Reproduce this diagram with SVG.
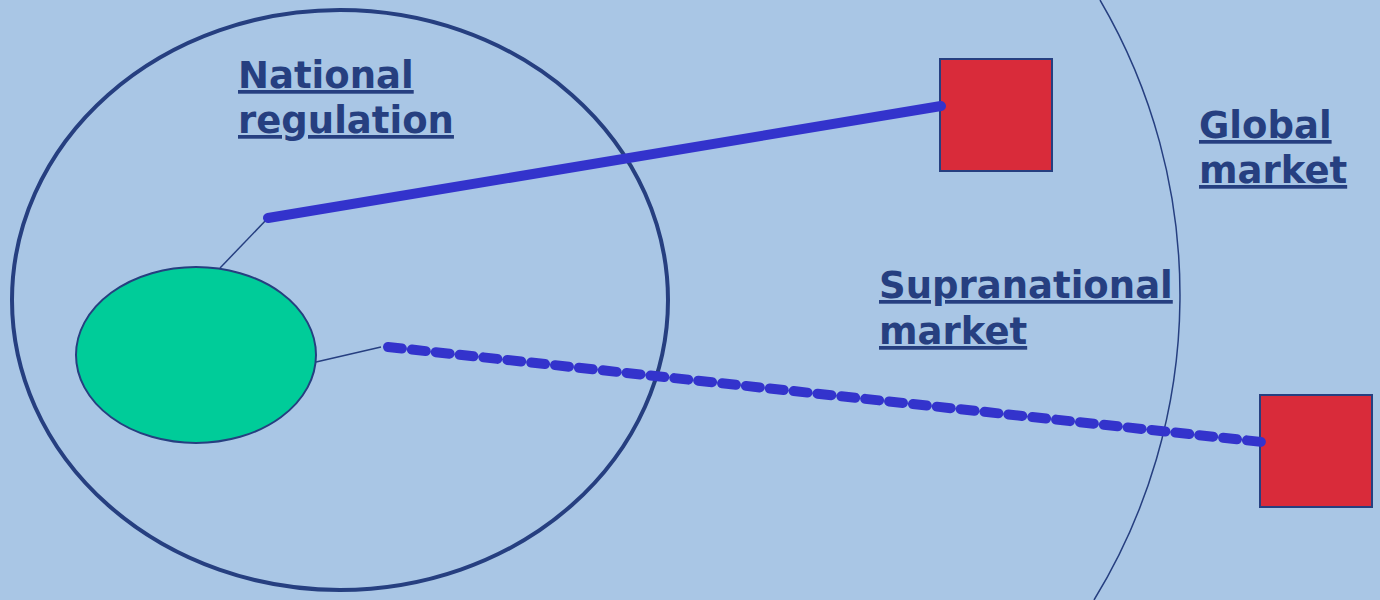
<svg xmlns="http://www.w3.org/2000/svg" width="1380" height="600" viewBox="0 0 1380 600">
<style>
.lbl{font-family:"DejaVu Sans","Verdana",sans-serif;font-weight:bold;font-size:37px;fill:#263f80;text-decoration:underline;}
.sq{fill:#d92b3a;stroke:#263f80;stroke-width:2;}
.thin{stroke:#263f80;stroke-width:1.5;fill:none;}
.link{stroke:#3333cc;stroke-width:10;stroke-linecap:round;fill:none;}
</style>
<rect x="0" y="0" width="1380" height="600" fill="#a9c6e5"/>
<g id="global-market">
<path d="M1100,0 A584,584 0 0 1 1094,600" fill="none" stroke="#263f80" stroke-width="1.5"/>
<text class="lbl" x="1199" y="138">Global</text>
<text class="lbl" x="1199" y="183">market</text>
</g>
<g id="national-regulation">
<ellipse cx="340" cy="300" rx="328" ry="290" fill="none" stroke="#263f80" stroke-width="4"/>
<text class="lbl" x="238" y="88">National</text>
<text class="lbl" x="238" y="133">regulation</text>
</g>
<g id="supranational-market">
<text class="lbl" x="879" y="298">Supranational</text>
<text class="lbl" x="879" y="344">market</text>
</g>
<g id="firm">
<ellipse cx="196" cy="355" rx="120" ry="88" fill="#00cc99" stroke="#263f80" stroke-width="2"/>
</g>
<g id="square-top">
<rect class="sq" x="940" y="59" width="112" height="112"/>
</g>
<g id="square-bottom">
<rect class="sq" x="1260" y="395" width="112" height="112"/>
</g>
<g id="connectors">
<line class="thin" x1="220" y1="268" x2="268" y2="218"/>
<line class="link" x1="268" y1="218" x2="941" y2="106"/>
<line class="thin" x1="316" y1="362" x2="381" y2="347"/>
<line class="link" x1="388" y1="347" x2="1262" y2="442" stroke-dasharray="14 10"/>
</g>
</svg>
